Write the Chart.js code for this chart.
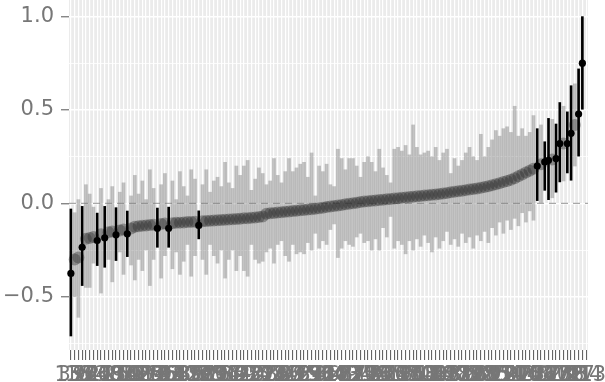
<!DOCTYPE html>
<html lang="en">
<head>
<meta charset="UTF-8">
<title>Caterpillar plot</title>
<script src="https://cdn.jsdelivr.net/npm/chart.js"></script>
<style>
  html, body { margin: 0; padding: 0; background: #fff; }
  #wrap { width: 605px; height: 382px; }
</style>
</head>
<body>
<div id="wrap"><canvas id="cat" width="605" height="382"></canvas></div>
<script>
// category labels (unreadable in the original, they overlap)
const regions = [
  "37","135","18","52","94","7","121","66","3","109",
  "48","77","25","130","88","14","59","101","42","116",
  "71","29","84","9","127","56","33","98","63","112",
  "20","45","80","137","5","90","123","38","69","15",
  "104","51","27","86","119","61","2","95","40","132",
  "74","22","108","57","11","83","126","31","67","99",
  "46","115","8","79","24","136","53","92","36","118",
  "64","17","103","49","1","87","129","34","70","13",
  "111","58","26","96","41","124","76","19","107","55",
  "10","85","133","30","68","100","44","114","6","81",
  "23","128","60","93","39","120","72","16","105","50",
  "28","89","131","35","65","12","110","54","21","97",
  "43","122","75","4","106","62","32","82","125","47",
  "73","102","138","78","117","91","134","113"
];

const estimate = [
  -0.375,-0.30,-0.29,-0.235,-0.19,-0.185,-0.18,-0.199,-0.165,-0.184,
  -0.155,-0.15,-0.168,-0.145,-0.14,-0.163,-0.135,-0.125,-0.122,-0.12,
  -0.118,-0.116,-0.114,-0.133,-0.11,-0.108,-0.133,-0.106,-0.104,-0.103,
  -0.102,-0.10,-0.099,-0.098,-0.118,-0.096,-0.094,-0.093,-0.092,-0.09,
  -0.089,-0.088,-0.086,-0.085,-0.084,-0.082,-0.08,-0.079,-0.077,-0.075,
  -0.073,-0.07,-0.055,-0.053,-0.051,-0.049,-0.047,-0.045,-0.043,-0.041,
  -0.039,-0.037,-0.035,-0.033,-0.031,-0.029,-0.026,-0.023,-0.02,-0.017,
  -0.014,-0.011,-0.008,-0.005,-0.002,0.001,0.004,0.007,0.01,0.012,
  0.014,0.016,0.018,0.02,0.022,0.024,0.026,0.028,0.03,0.032,
  0.034,0.036,0.038,0.04,0.042,0.044,0.046,0.048,0.05,0.053,
  0.056,0.059,0.062,0.065,0.068,0.071,0.074,0.077,0.08,0.084,
  0.088,0.092,0.097,0.102,0.108,0.114,0.12,0.127,0.135,0.145,
  0.155,0.165,0.175,0.185,0.20,0.21,0.222,0.231,0.235,0.24,
  0.32,0.32,0.32,0.375,0.42,0.478,0.751,null
];

const lower = [
  -0.71,-0.50,-0.61,-0.44,-0.45,-0.45,-0.32,-0.333,-0.48,-0.342,
  -0.30,-0.42,-0.306,-0.26,-0.38,-0.285,-0.33,-0.41,-0.30,-0.36,
  -0.25,-0.44,-0.30,-0.235,-0.40,-0.28,-0.235,-0.35,-0.26,-0.38,
  -0.31,-0.22,-0.39,-0.28,-0.19,-0.30,-0.38,-0.22,-0.28,-0.32,
  -0.25,-0.40,-0.30,-0.25,-0.36,-0.28,-0.36,-0.39,-0.22,-0.30,
  -0.32,-0.31,-0.26,-0.24,-0.32,-0.22,-0.20,-0.28,-0.31,-0.22,
  -0.27,-0.26,-0.27,-0.21,-0.25,-0.16,-0.24,-0.20,-0.22,-0.14,
  -0.11,-0.29,-0.24,-0.20,-0.22,-0.23,-0.18,-0.16,-0.21,-0.20,
  -0.25,-0.19,-0.25,-0.13,-0.18,-0.07,-0.24,-0.20,-0.22,-0.27,
  -0.20,-0.25,-0.19,-0.23,-0.17,-0.21,-0.26,-0.18,-0.24,-0.20,
  -0.15,-0.22,-0.19,-0.23,-0.16,-0.21,-0.18,-0.24,-0.17,-0.20,
  -0.15,-0.21,-0.13,-0.17,-0.10,-0.16,-0.09,-0.14,-0.08,-0.12,
  -0.05,-0.10,-0.04,-0.09,0.015,0.0,0.07,0.02,0.03,0.06,
  0.115,0.12,0.163,0.124,0.20,0.253,0.504,null
];

const upper = [
  -0.03,-0.05,0.02,-0.016,0.10,0.05,-0.02,-0.052,0.08,-0.016,
  0.02,0.09,-0.023,0.06,0.11,-0.041,0.04,0.15,0.05,0.12,
  0.02,0.18,0.08,-0.025,0.10,0.16,-0.02,0.12,0.02,0.17,
  0.09,0.04,0.18,0.13,-0.04,0.10,0.18,0.06,0.12,0.14,
  0.09,0.22,0.11,0.08,0.20,0.15,0.20,0.23,0.07,0.13,
  0.19,0.16,0.10,0.12,0.24,0.15,0.11,0.17,0.24,0.17,
  0.19,0.21,0.22,0.14,0.27,0.04,0.20,0.17,0.21,0.10,
  0.09,0.29,0.24,0.18,0.24,0.24,0.20,0.14,0.22,0.25,
  0.22,0.17,0.29,0.19,0.15,0.11,0.29,0.30,0.28,0.31,
  0.26,0.42,0.30,0.26,0.27,0.28,0.25,0.30,0.23,0.27,
  0.29,0.16,0.24,0.20,0.23,0.27,0.30,0.25,0.23,0.37,
  0.25,0.30,0.34,0.39,0.36,0.40,0.41,0.38,0.52,0.36,
  0.40,0.36,0.38,0.47,0.40,0.42,0.33,0.455,0.45,0.425,
  0.54,0.52,0.49,0.63,0.64,0.72,1.0,null
];

// positions drawn in black (interval clear of zero)
const flagged = [0,3,7,9,12,15,23,26,34,124,126,127,129,130,132,133,135,136];

const yTicks = [-0.75,-0.5,-0.25,0,0.25,0.5,0.75,1.0];
const yMajor = {'-0.5': '\u22120.5', '0': '0.0', '0.5': '0.5', '1': '1.0'};

const FONT = "'DejaVu Sans', sans-serif";
const isFlagged = i => flagged.includes(i);
const isMajor = v => yMajor[String(v)] !== undefined;

const greyPts = estimate.map((v, i) => isFlagged(i) ? null : v);
const blackPts = estimate.map((v, i) => isFlagged(i) ? v : null);
const greyBars = estimate.map((v, i) => (v === null || isFlagged(i)) ? null : [lower[i], upper[i]]);
const blackBars = estimate.map((v, i) => isFlagged(i) ? [lower[i], upper[i]] : null);

const panel = {
  id: 'panel',
  beforeDraw(chart) {
    const { ctx, chartArea: a } = chart;
    ctx.save();
    ctx.fillStyle = '#EBEBEB';
    ctx.fillRect(a.left, a.top, a.right - a.left, a.bottom - a.top);
    ctx.restore();
  },
  beforeDatasetsDraw(chart) {
    const { ctx, chartArea: a, scales: { y } } = chart;
    const y0 = y.getPixelForValue(0);
    ctx.save();
    ctx.strokeStyle = '#A8A8A8';
    ctx.lineWidth = 1.2;
    ctx.setLineDash([7, 5]);
    ctx.beginPath();
    ctx.moveTo(a.left, y0);
    ctx.lineTo(a.right, y0);
    ctx.stroke();
    ctx.restore();
  }
};

new Chart(document.getElementById('cat'), {
  type: 'bar',
  data: {
    labels: regions,
    datasets: [
      { data: greyBars, backgroundColor: 'rgba(125,125,125,0.45)', barThickness: 3, grouped: false, order: 4 },
      { type: 'line', data: greyPts, showLine: false, pointRadius: 6, pointBorderWidth: 0,
        pointBackgroundColor: 'rgba(40,40,40,0.36)', order: 3 },
      { data: blackBars, backgroundColor: '#000', barThickness: 2, grouped: false, order: 2 },
      { type: 'line', data: blackPts, showLine: false, pointRadius: 3.6, pointBorderWidth: 0,
        pointBackgroundColor: '#000', order: 1 }
    ]
  },
  options: {
    responsive: false,
    animation: false,
    layout: { autoPadding: false, padding: { left: 0, top: 0, right: 17, bottom: 0 } },
    plugins: { legend: { display: false }, tooltip: { enabled: false } },
    scales: {
      x: {
        type: 'category',
        offset: true,
        border: { display: false },
        grid: { offset: false, color: '#FFFFFF', lineWidth: 1.2, tickColor: '#555', tickWidth: 1, tickLength: 10 },
        ticks: { autoSkip: false, maxRotation: 0, minRotation: 0, padding: 3, color: '#777',
                 font: { family: FONT, size: 21 } },
        afterFit(s) { s.height = 32; s.paddingLeft = 0; s.paddingRight = 0; }
      },
      y: {
        min: -0.785,
        max: 1.089,
        border: { display: false },
        afterBuildTicks(s) { s.ticks = yTicks.map(v => ({ value: v })); },
        grid: {
          color: '#FFFFFF',
          lineWidth: c => isMajor(c.tick.value) ? 1.6 : 0.8,
          tickColor: c => isMajor(c.tick.value) ? '#555' : 'rgba(0,0,0,0)',
          tickWidth: 1,
          tickLength: 8
        },
        ticks: { padding: 7, color: '#777', font: { family: FONT, size: 21 },
                 callback: v => yMajor[String(v)] || '' },
        afterFit(s) { s.width = 69; s.paddingTop = 0; s.paddingBottom = 0; }
      }
    }
  },
  plugins: [panel]
});
</script>
</body>
</html>
